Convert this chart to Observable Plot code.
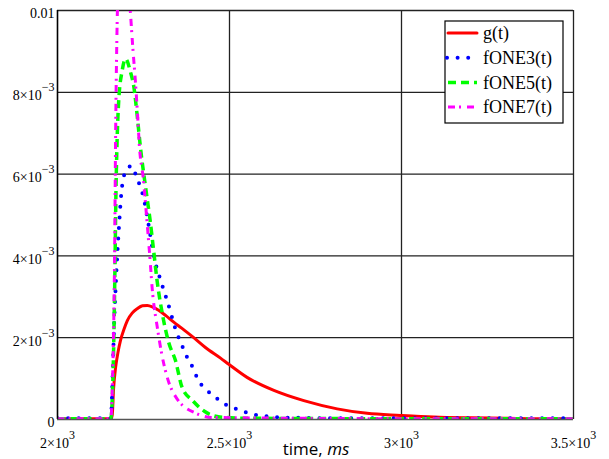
<!DOCTYPE html>
<html>
<head>
<meta charset="utf-8">
<script src="https://cdn.jsdelivr.net/npm/d3@7"></script>
<script src="https://cdn.jsdelivr.net/npm/@observablehq/plot@0.6"></script>
<style>
  html, body { margin: 0; padding: 0; background: white; }
  #chart svg { display: block; }
</style>
</head>
<body>
<div id="chart"></div>
<script>
// ---- data (time in ms) ----
const gT = [2000, 2100, 2155, 2159, 2163, 2169, 2176, 2183, 2193, 2203, 2217, 2232, 2247, 2261, 2277, 2294, 2315, 2338, 2360, 2396, 2430, 2474, 2498, 2551, 2629, 2716, 2813, 2900, 2997, 3093, 3200, 3300, 3400, 3500];
const gV = [0.00002, 0.00002, 0.00002, 0.0001, 0.00075, 0.00128, 0.00165, 0.00193, 0.0022, 0.00242, 0.0026, 0.00271, 0.00278, 0.00279, 0.00275, 0.00267, 0.00254, 0.00238, 0.00224, 0.002, 0.00176, 0.0015, 0.00135, 0.00103, 0.00071, 0.00046, 0.00026, 0.00015, 0.0001, 0.00006, 0.00004, 0.00003, 0.00002, 0.00002];

const f3T = [2000, 2100, 2155, 2160, 2164, 2170, 2178, 2188, 2200, 2215, 2230, 2251, 2265, 2280, 2300, 2319, 2348, 2362, 2377, 2394, 2408, 2435, 2466, 2498, 2529, 2559, 2590, 2620, 2652, 2700, 2800, 3000, 3500];
const f3V = [0.00003, 0.00003, 0.00003, 0.001, 0.00218, 0.0034, 0.00462, 0.00572, 0.0061, 0.0062, 0.00592, 0.00539, 0.00475, 0.004, 0.0034, 0.0029, 0.00209, 0.00181, 0.00152, 0.00126, 0.00098, 0.00071, 0.0005, 0.00032, 0.00024, 0.00014, 0.0001, 0.00007, 0.00005, 0.00004, 0.00003, 0.00003, 0.00003];

const f5T = [2000, 2100, 2155, 2159, 2164, 2167, 2170, 2173, 2178, 2188, 2198, 2212, 2222, 2232, 2241, 2258, 2270, 2280, 2290, 2304, 2323, 2343, 2362, 2394, 2427, 2472, 2550, 3000, 3500];
const f5V = [0.00002, 0.00002, 0.00002, 0.00046, 0.0021, 0.0037, 0.0056, 0.00674, 0.0078, 0.00853, 0.00882, 0.0085, 0.00813, 0.0074, 0.00666, 0.00556, 0.00482, 0.00409, 0.00336, 0.00262, 0.00189, 0.00144, 0.00079, 0.00045, 0.0002, 0.00006, 0.00003, 0.00002, 0.00002];

const f7T = [2000, 2100, 2155, 2160, 2166, 2169, 2172, 2175, 2185, 2195, 2205, 2212, 2218, 2227, 2232, 2239, 2249, 2260, 2270, 2275, 2290, 2304, 2319, 2348, 2406, 2450, 3000, 3500];
const f7V = [0.00002, 0.00002, 0.00002, 0.001, 0.004, 0.007, 0.009, 0.0102, 0.011, 0.0112, 0.0108, 0.00995, 0.0092, 0.0082, 0.00755, 0.00658, 0.00592, 0.00486, 0.0038, 0.00323, 0.00226, 0.00156, 0.00103, 0.0005, 0.00014, 0.00005, 0.00002, 0.00002];

const seriesNames = ["g(t)", "fONE3(t)", "fONE5(t)", "fONE7(t)"];
const seriesColors = ["#ff0000", "#0000ff", "#00ff00", "#ff00ff"];

const xTicks = [2000, 2500, 3000, 3500];
const xTickLabels = ["2×10^3", "2.5×10^3", "3×10^3", "3.5×10^3"];
const yTicks = [0, 0.002, 0.004, 0.006, 0.008, 0.01];
const yTickLabels = ["0", "2×10^−3", "4×10^−3", "6×10^−3", "8×10^−3", "0.01"];

// ---- build ----
const SERIF = "Liberation Serif, serif";
const toRows = (T, V) => T.map((t, i) => ({t, v: V[i]}));
const seriesRows = [toRows(gT, gV), toRows(f3T, f3V), toRows(f5T, f5V), toRows(f7T, f7V)];
const styles = [
  {strokeWidth: 3, strokeDasharray: null, strokeLinecap: "round"},
  {strokeWidth: 4, strokeDasharray: "0 10.6", strokeLinecap: "round"},
  {strokeWidth: 3.5, strokeDasharray: "8 5", strokeLinecap: "butt"},
  {strokeWidth: 3, strokeDasharray: "7 4 2 6", strokeLinecap: "butt"}
];
const xLab = new Map(xTicks.map((d, i) => [d, xTickLabels[i]]));
const yLab = new Map(yTicks.map((d, i) => [d, yTickLabels[i]]));

const lineMarks = seriesRows.map((rows, i) => Plot.line(rows, {
  x: "t", y: "v", stroke: seriesColors[i], clip: true, curve: "monotone-x",
  strokeWidth: styles[i].strokeWidth,
  strokeDasharray: styles[i].strokeDasharray || undefined,
  strokeLinecap: styles[i].strokeLinecap,
  strokeLinejoin: "round"
}));

const svg = Plot.plot({
  width: 609,
  height: 459,
  marginLeft: 57,
  marginRight: 36,
  marginTop: 10,
  marginBottom: 40,
  style: {background: "white", fontSize: "14px", color: "black", fontFamily: SERIF},
  x: {domain: [2000, 3500]},
  y: {domain: [0, 0.01]},
  marks: [
    Plot.ruleX(xTicks.slice(1), {stroke: "#222", strokeWidth: 1.3}),
    Plot.ruleY(yTicks.slice(1), {stroke: "#222", strokeWidth: 1.3}),
    ...lineMarks,
    Plot.ruleX([xTicks[0]], {stroke: "#000", strokeWidth: 1.6}),
    Plot.ruleY([yTicks[0]], {stroke: "#555", strokeWidth: 1.3}),
    Plot.axisX(xTicks, {tickSize: 0, tickPadding: 3, dy: 16, fontSize: 14, fontFamily: SERIF, tickFormat: d => xLab.get(d), label: null}),
    Plot.axisY(yTicks, {tickSize: 0, tickPadding: 3, dy: 3.5, fontSize: 14, fontFamily: SERIF, tickFormat: d => yLab.get(d), label: null})
  ]
});

// superscripts in tick labels
d3.select(svg).selectAll('g[aria-label="x-axis tick label"] text, g[aria-label="y-axis tick label"] text').each(function () {
  const s = this.textContent;
  const parts = s.split("^");
  const t = d3.select(this).attr("font-family", SERIF);
  if (parts.length < 2) return;
  t.text(parts[0]);
  t.append("tspan").attr("dy", -9).attr("font-size", 12).text(parts[1]);
});

// axis title
const sel = d3.select(svg);
const title = sel.append("text")
  .attr("x", (57 + 609 - 36) / 2 + 1)
  .attr("y", 455)
  .attr("text-anchor", "middle")
  .attr("font-family", "Open Sans, sans-serif")
  .attr("font-size", 17)
  .attr("fill", "black");
title.append("tspan").text("time, ");
title.append("tspan").attr("font-style", "italic").text("ms");

// legend
const lg = sel.append("g").attr("transform", "translate(445,21)");
lg.append("rect").attr("x", 0).attr("y", 0).attr("width", 118).attr("height", 102)
  .attr("fill", "white").attr("stroke", "black").attr("stroke-width", 1.2);
seriesNames.forEach((name, i) => {
  const y = 12 + i * 24.7;
  const st = styles[i];
  lg.append("line")
    .attr("x1", i === 1 ? 2 : 3).attr("x2", 32).attr("y1", y).attr("y2", y)
    .attr("stroke", seriesColors[i])
    .attr("stroke-width", st.strokeWidth)
    .attr("stroke-dasharray", st.strokeDasharray)
    .attr("stroke-linecap", st.strokeLinecap);
  lg.append("text").attr("x", 38).attr("y", y).attr("dy", "0.35em")
    .attr("text-anchor", "start")
    .attr("font-family", SERIF).attr("font-size", 18)
    .attr("fill", "black").text(name);
});

document.getElementById("chart").appendChild(svg);
</script>
</body>
</html>
